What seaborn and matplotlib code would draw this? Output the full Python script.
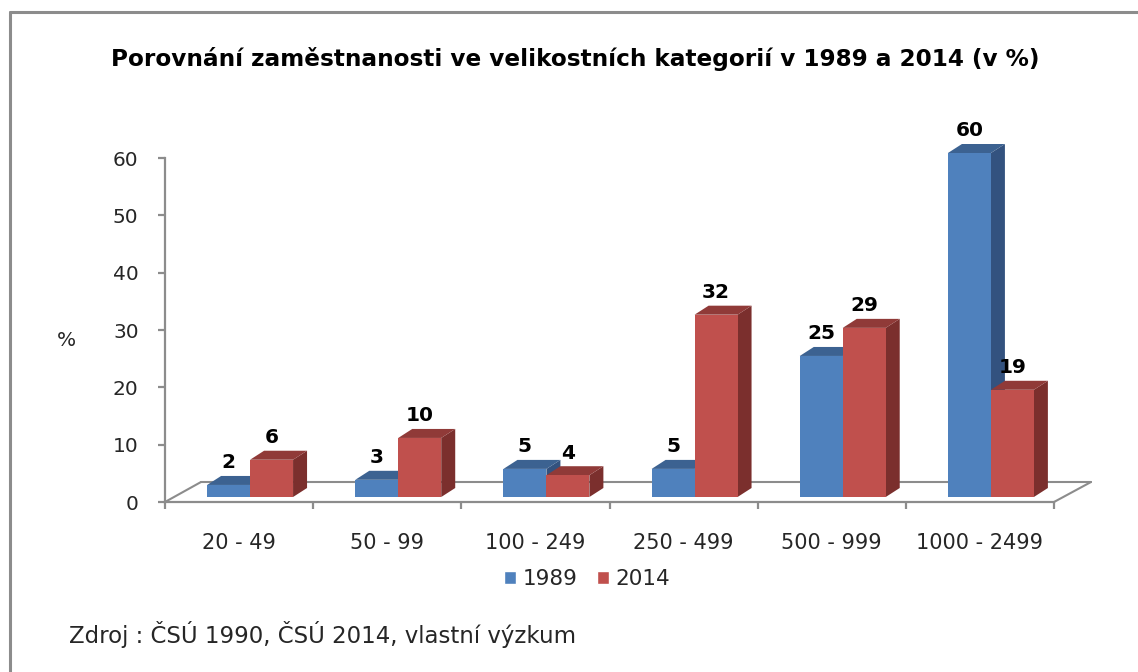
#Import libraries
import pandas as pd
import matplotlib
matplotlib.use('Agg')
import matplotlib.pyplot as plt
from matplotlib.lines import Line2D
from matplotlib.patches import Polygon, Patch
from matplotlib.transforms import Affine2D, IdentityTransform
import seaborn as sns

W, H = 1138, 672

#values
categories = ['20 - 49', '50 - 99', '100 - 249', '250 - 499', '500 - 999', '1000 - 2499']
values_1989 = [2.1, 3.0, 4.9, 4.9, 24.6, 60.0]
values_2014 = [6.5, 10.3, 3.8, 31.8, 29.5, 18.7]
labels_1989 = ['2', '3', '5', '5', '25', '60']
labels_2014 = ['6', '10', '4', '32', '29', '19']
y_ticks = [0, 10, 20, 30, 40, 50, 60]

df = pd.DataFrame({
    'category': categories * 2,
    'value': values_1989 + values_2014,
    'year': ['1989'] * 6 + ['2014'] * 6,
})

sns.set_theme(style='white')
plt.rcParams['font.family'] = ['DejaVu Sans']

GREY = '#8C8C8C'
TEXT = '#262626'
front = {'1989': '#4F81BD', '2014': '#C0504D'}
side = {'1989': '#33527F', '2014': '#7B2F2D'}
top = {'1989': '#3C6291', '2014': '#903A38'}

fig = plt.figure(figsize=(W / 100, H / 100), dpi=100, facecolor='white')
ax = fig.add_axes([165 / W, 1 - 502 / H, 889 / W, 344 / H])
ax.set_facecolor('none')

sns.barplot(data=df, x='category', y='value', hue='year', palette=front, order=categories,
            width=0.58, gap=0, saturation=1, legend=False, linewidth=0, ax=ax, zorder=3)
ax.set_xlim(-0.5, 5.5)
ax.set_ylim(0, 60)

#axis look
sns.despine(ax=ax)
for s in ['left', 'bottom']:
    ax.spines[s].set_color(GREY)
    ax.spines[s].set_linewidth(1.6)
ax.set_yticks(y_ticks)
ax.tick_params(axis='y', length=5, width=1.6, color=GREY, pad=14, labelsize=14.5, labelcolor=TEXT, left=True)
ax.set_xticks(range(6))
ax.set_xticklabels(categories)
ax.set_xticks([i - 0.5 for i in range(7)], minor=True)
ax.tick_params(axis='x', which='major', length=0, pad=22, labelsize=15, labelcolor=TEXT)
ax.tick_params(axis='x', which='minor', length=5, width=1.6, color=GREY, bottom=True)
ax.set_xlabel('')
ax.set_ylabel('')

#floor of the fake 3d chart
fig.canvas.draw()
to_px = IdentityTransform()
x0, y0 = ax.transData.transform((-0.5, 0))
x1, _ = ax.transData.transform((5.5, 0))
for xs, ys in [([x0, x0 + 36], [y0, y0 + 20]), ([x0 + 36, x1 + 37], [y0 + 20, y0 + 20]), ([x1 + 37, x1], [y0 + 20, y0])]:
    ax.add_line(Line2D(xs, ys, color=GREY, lw=1.5, transform=to_px, clip_on=False, zorder=1))

#shift the bars and add the side and top faces
shift = Affine2D().translate(11, 5)
dx, dy = 14, 9
for cont, year, labels in zip(ax.containers, ['1989', '2014'], [labels_1989, labels_2014]):
    for i, (bar, lab) in enumerate(zip(cont, labels)):
        bar.set_transform(ax.transData + shift)
        bar.set_clip_on(False)
        bar.set_zorder(3 + 2 * i + (year == '2014'))
        xa, ya = ax.transData.transform((bar.get_x(), 0)) + (11, 5)
        xb, yb = ax.transData.transform((bar.get_x() + bar.get_width(), bar.get_height())) + (11, 5)
        z = bar.get_zorder() - 0.5
        ax.add_patch(Polygon([(xb, ya), (xb + dx, ya + dy), (xb + dx, yb + dy), (xb, yb)], transform=to_px,
                             facecolor=side[year], edgecolor='none', clip_on=False, zorder=z))
        ax.add_patch(Polygon([(xa, yb), (xa + dx, yb + dy), (xb + dx, yb + dy), (xb, yb)], transform=to_px,
                             facecolor=top[year], edgecolor='none', clip_on=False, zorder=z))
        ax.annotate(lab, xy=((xa + xb) / 2, yb + 22), xycoords=to_px, ha='center', va='center',
                    fontsize=14.5, fontweight='bold', color='black', zorder=30, annotation_clip=False)

#texts
fig.text(575 / W, 1 - 59 / H, 'Porovnání zaměstnanosti ve velikostních kategorií v 1989 a 2014 (v %)',
         ha='center', va='center', fontsize=16.7, fontweight='bold', color='black')
fig.text(66 / W, 1 - 341 / H, '%', ha='center', va='center', fontsize=14.5, color=TEXT)
fig.text(69 / W, 1 - 635 / H, 'Zdroj : ČSÚ 1990, ČSÚ 2014, vlastní výzkum', ha='left', va='center',
         fontsize=16.5, color=TEXT)

#legend
handles = [Patch(facecolor=front[y], label=y) for y in ['1989', '2014']]
fig.legend(handles=handles, loc='center', bbox_to_anchor=(587 / W, 1 - 579 / H), ncol=2, frameon=False,
           fontsize=15.5, labelcolor=TEXT, handlelength=0.56, handleheight=0.56, handletextpad=0.33, columnspacing=0.88)

#outer frame, only left and top are visible
fig.add_artist(Line2D([9.5 / W, 9.5 / W], [0, 1 - 12 / H], color=GREY, lw=2.2))
fig.add_artist(Line2D([9.5 / W, 1], [1 - 12 / H, 1 - 12 / H], color=GREY, lw=2.2))

fig.savefig('out.png', dpi=100)
